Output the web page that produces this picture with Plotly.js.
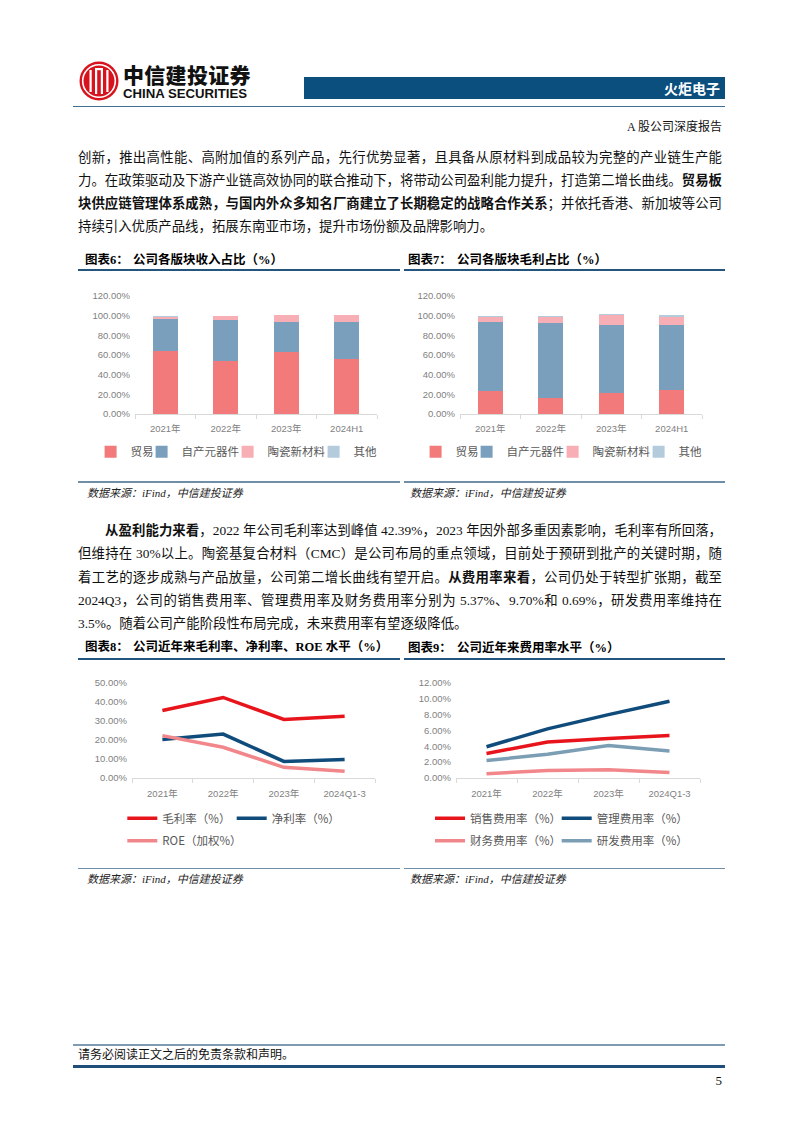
<!DOCTYPE html>
<html><head><meta charset="utf-8">
<script src="https://cdn.plot.ly/plotly-3.0.1.min.js"></script>
<style>
html,body{margin:0;padding:0;background:#fff;}
body{width:802px;height:1133px;position:relative;overflow:hidden;font-family:"Liberation Serif","Noto Sans CJK SC",serif;color:#111;}
.ln{position:absolute;left:78px;width:644px;height:20px;line-height:20px;font-size:13.4px;white-space:nowrap;}
.j{text-align:justify;text-align-last:justify;}
.ttl{position:absolute;font-size:12.5px;font-weight:bold;height:16px;line-height:16px;white-space:nowrap;color:#000;}
.bar{position:absolute;}
.src{position:absolute;font-size:11px;font-style:italic;height:16px;line-height:16px;white-space:nowrap;color:#222;}
.chart{position:absolute;width:322px;height:190px;}
.logo1{position:absolute;left:123px;top:63px;height:22px;line-height:22px;font-family:"Noto Sans CJK SC";font-weight:900;font-size:21px;white-space:nowrap;color:#111;letter-spacing:0.3px;}
.logo2{position:absolute;left:123px;top:88px;height:12px;line-height:12px;font-family:"Liberation Sans Narrow","Liberation Sans";font-weight:bold;font-size:12px;white-space:nowrap;color:#111;}
</style>
</head><body>

<svg class="bar" style="left:78px;top:60px;" width="42" height="42" viewBox="78 60 42 42">
  <circle cx="99" cy="81" r="19.5" fill="#D7141E"/>
  <circle cx="99" cy="81" r="16.3" fill="none" stroke="#fff" stroke-width="1.6"/>
  <rect x="89.5" y="70" width="2.2" height="22" fill="#fff"/>
  <rect x="95" y="68" width="2.2" height="26" fill="#fff"/>
  <rect x="100.8" y="68" width="2.2" height="26" fill="#fff"/>
  <rect x="106.3" y="70" width="2.2" height="22" fill="#fff"/>
  <rect x="95" y="68" width="8" height="2.2" fill="#fff"/>
</svg>
<div class="logo1">中信建投证券</div>
<div class="logo2" id="lg2">CHINA SECURITIES</div>

<div class="bar" style="left:304px;top:77px;width:421px;height:22px;background:#0B4F7E;"></div>
<div class="bar" style="left:600px;top:77px;width:120px;height:22px;line-height:22px;text-align:right;color:#fff;font-family:'Noto Sans CJK SC';font-weight:bold;font-size:14px;">火炬电子</div>
<div class="bar" style="left:73px;top:105.5px;width:652px;height:1.5px;background:#3F6F95;"></div>
<div class="bar" style="left:560px;top:118px;width:162px;height:18px;line-height:18px;text-align:right;font-size:12px;">A 股公司深度报告</div>

<div class="ln j" style="top:147.5px;">创新，推出高性能、高附加值的系列产品，先行优势显著，且具备从原材料到成品较为完整的产业链生产能</div>
<div class="ln j" style="top:170.5px;">力。在政策驱动及下游产业链高效协同的联合推动下，将带动公司盈利能力提升，打造第二增长曲线。<b>贸易板</b></div>
<div class="ln j" style="top:193.5px;"><b>块供应链管理体系成熟，与国内外众多知名厂商建立了长期稳定的战略合作关系</b>；并依托香港、新加坡等公司</div>
<div class="ln" style="top:216.5px;">持续引入优质产品线，拓展东南亚市场，提升市场份额及品牌影响力。</div>

<div class="ttl" style="left:85px;top:252px;">图表6：</div>
<div class="ttl" style="left:133px;top:252px;">公司各版块收入占比（%）</div>
<div class="ttl" style="left:408px;top:252px;">图表7：</div>
<div class="ttl" style="left:457px;top:252px;">公司各版块毛利占比（%）</div>
<div class="bar" style="left:78px;top:269px;width:322px;height:2px;background:#24557F;"></div>
<div class="bar" style="left:404px;top:269px;width:321px;height:2px;background:#24557F;"></div>

<div id="c6" class="chart" style="left:78px;top:280px;"></div>
<div id="c7" class="chart" style="left:403px;top:280px;"></div>

<div class="bar" style="left:78px;top:481px;width:322px;height:1.5px;background:#6F8FA8;"></div>
<div class="bar" style="left:404px;top:481px;width:321px;height:1.5px;background:#6F8FA8;"></div>
<div class="src" style="left:87px;top:485px;">数据来源：iFind，中信建投证券</div>
<div class="src" style="left:410px;top:485px;">数据来源：iFind，中信建投证券</div>

<div class="ln j" style="left:105px;width:617px;top:521px;"><b>从盈利能力来看</b>，2022 年公司毛利率达到峰值 42.39%，2023 年因外部多重因素影响，毛利率有所回落，</div>
<div class="ln j" style="top:544.3px;">但维持在 30%以上。陶瓷基复合材料（CMC）是公司布局的重点领域，目前处于预研到批产的关键时期，随</div>
<div class="ln j" style="top:567.6px;">着工艺的逐步成熟与产品放量，公司第二增长曲线有望开启。<b>从费用率来看</b>，公司仍处于转型扩张期，截至</div>
<div class="ln j" style="top:590.9px;">2024Q3，公司的销售费用率、管理费用率及财务费用率分别为 5.37%、9.70%和 0.69%，研发费用率维持在</div>
<div class="ln" style="top:614.2px;">3.5%。随着公司产能阶段性布局完成，未来费用率有望逐级降低。</div>

<div class="ttl" style="left:85px;top:639px;">图表8：</div>
<div class="ttl" style="left:133px;top:639px;">公司近年来毛利率、净利率、ROE 水平（%）</div>
<div class="ttl" style="left:408px;top:640px;">图表9：</div>
<div class="ttl" style="left:457px;top:640px;">公司近年来费用率水平（%）</div>
<div class="bar" style="left:78px;top:657.5px;width:322px;height:2px;background:#24557F;"></div>
<div class="bar" style="left:404px;top:657.5px;width:321px;height:2px;background:#24557F;"></div>

<div id="c8" class="chart" style="left:78px;top:665px;"></div>
<div id="c9" class="chart" style="left:403px;top:665px;"></div>

<div class="bar" style="left:78px;top:867.5px;width:322px;height:1.5px;background:#6F8FA8;"></div>
<div class="bar" style="left:404px;top:867.5px;width:321px;height:1.5px;background:#6F8FA8;"></div>
<div class="src" style="left:87px;top:871px;">数据来源：iFind，中信建投证券</div>
<div class="src" style="left:410px;top:871px;">数据来源：iFind，中信建投证券</div>

<div class="bar" style="left:73px;top:1044px;width:652px;height:2px;background:#7E9BB1;"></div>
<div class="bar" style="left:78px;top:1047px;width:400px;height:17px;line-height:17px;font-size:12px;">请务必阅读正文之后的免责条款和声明。</div>
<div class="bar" style="left:73px;top:1065px;width:652px;height:2.5px;background:#1F4E79;"></div>
<div class="bar" style="left:690px;top:1072px;width:32px;height:17px;line-height:17px;text-align:right;font-size:13px;">5</div>

<script>
// ---------- data ----------
const barCats6 = ['2021年', '2022年', '2023年', '2024H1'];
const barCats7 = ['2021年', '2022年', '2023年', '2024H1'];
const segNames = ['贸易', '自产元器件', '陶瓷新材料', '其他'];

// 图表6 收入占比 (%)
const rev_trade = [64.3, 54.0, 62.9, 56.0];
const rev_self = [32.0, 41.5, 31.0, 37.8];
const rev_ceramic = [2.7, 3.8, 6.5, 6.4];
const rev_other = [1.0, 0.7, 0.6, 0.8];

// 图表7 毛利占比 (%)
const gp_trade = [23.8, 16.0, 21.4, 24.1];
const gp_self = [70.1, 76.9, 69.4, 66.7];
const gp_ceramic = [4.4, 6.1, 9.5, 7.8];
const gp_other = [1.7, 1.0, 1.0, 1.7];

const lineCats = ['2021年', '2022年', '2023年', '2024Q1-3'];
// 图表8 (%)
const grossMargin = [35.5, 42.39, 30.8, 32.5];
const netMargin = [20.3, 23.1, 8.7, 9.8];
const roe = [22.3, 16.2, 5.6, 3.5];
const names8 = ['毛利率（%）', '净利率（%）', 'ROE（加权%）'];

// 图表9 (%)
const sellRate = [3.1, 4.55, 5.0, 5.37];
const adminRate = [3.95, 6.2, 8.0, 9.70];
const finRate = [0.55, 0.95, 1.05, 0.69];
const rdRate = [2.2, 3.0, 4.1, 3.4];
const names9 = ['销售费用率（%）', '管理费用率（%）', '财务费用率（%）', '研发费用率（%）'];

// ---------- logo text width fit ----------
(function () {
  const el = document.getElementById('lg2');
  const w = el.getBoundingClientRect().width;
  if (w > 0) { el.style.transformOrigin = 'left center'; el.style.transform = 'scaleX(' + (124 / w) + ')'; }
})();

// ---------- styles ----------
const barColors = ['#F27A7A', '#7A9FBC', '#F7AEB4', '#B4CBDB'];
const tickFont = {family: 'Liberation Sans, Noto Sans CJK SC, sans-serif', size: 9.5, color: '#7F7F7F'};
const legFont = {family: 'Noto Sans CJK SC, sans-serif', size: 11.5, color: '#595959'};
const legKeys = ['legend', 'legend2', 'legend3', 'legend4'];

function leg(x, y) {
  return {x: x, y: y, xref: 'container', yref: 'container', xanchor: 'left', yanchor: 'middle',
          orientation: 'h', bgcolor: 'rgba(0,0,0,0)', borderwidth: 0, font: legFont};
}

function axes(yr, dt, xoff) {
  return {
    xaxis: {type: 'category', range: [-0.5, 3.5], showline: true, linecolor: '#D9D9D9', linewidth: 1,
            ticks: 'outside', ticklen: 4, tickcolor: '#D9D9D9', tickson: 'boundaries',
            showgrid: false, zeroline: false, tickfont: tickFont, ticklabelstandoff: xoff,
            automargin: false, fixedrange: true},
    yaxis: {range: yr, dtick: dt, tick0: 0, tickformat: '.2f', ticksuffix: '%', showgrid: false,
            zeroline: false, showline: false, ticks: '', tickfont: tickFont, ticklabelstandoff: 4,
            automargin: false, fixedrange: true}
  };
}

function barChart(id, cats, series) {
  const traces = series.map((s, i) => ({
    type: 'bar', x: cats, y: s, name: segNames[i], marker: {color: barColors[i], line: {width: 0}},
    legend: legKeys[i], hoverinfo: 'skip'
  }));
  const legX = [0.0391, 0.1975, 0.4646, 0.7317];
  const layout = Object.assign({
    width: 322, height: 190, margin: {l: 57, r: 23, t: 16, b: 56, autoexpand: false},
    paper_bgcolor: 'rgba(0,0,0,0)', plot_bgcolor: 'rgba(0,0,0,0)',
    barmode: 'stack', bargap: 0.587, showlegend: true
  }, axes([0, 120], 20, 6));
  legX.forEach((x, i) => { layout[legKeys[i]] = leg(x, 0.0963); });
  Plotly.newPlot(id, traces, layout, {staticPlot: true, displayModeBar: false});
}

barChart('c6', barCats6, [rev_trade, rev_self, rev_ceramic, rev_other]);
barChart('c7', barCats7, [gp_trade, gp_self, gp_ceramic, gp_other]);

function lineChart(id, series, names, colors, yr, dt, legPos, l) {
  const traces = series.map((s, i) => ({
    type: 'scatter', mode: 'lines', x: lineCats, y: s, name: names[i],
    line: {color: colors[i], width: 3.5}, legend: legKeys[i], hoverinfo: 'skip'
  }));
  const layout = Object.assign({
    width: 322, height: 190, margin: {l: l, r: 25, t: 18, b: 77, autoexpand: false},
    paper_bgcolor: 'rgba(0,0,0,0)', plot_bgcolor: 'rgba(0,0,0,0)', showlegend: true
  }, axes(yr, dt, 7));
  legPos.forEach((p, i) => { layout[legKeys[i]] = leg(p[0], p[1]); });
  Plotly.newPlot(id, traces, layout, {staticPlot: true, displayModeBar: false});
}

lineChart('c8', [grossMargin, netMargin, roe], names8, ['#E8141B', '#0F4C7C', '#F2878B'],
  [0, 50], 10, [[0.1376, 0.1932], [0.4773, 0.1932], [0.1376, 0.0753]], 54);
lineChart('c9', [sellRate, adminRate, finRate, rdRate], names9, ['#E8141B', '#0F4C7C', '#F2878B', '#7B9EB5'],
  [0, 12], 2, [[0.0839, 0.1932], [0.4773, 0.1932], [0.0839, 0.0753], [0.4773, 0.0753]], 53);
</script>
</body></html>
